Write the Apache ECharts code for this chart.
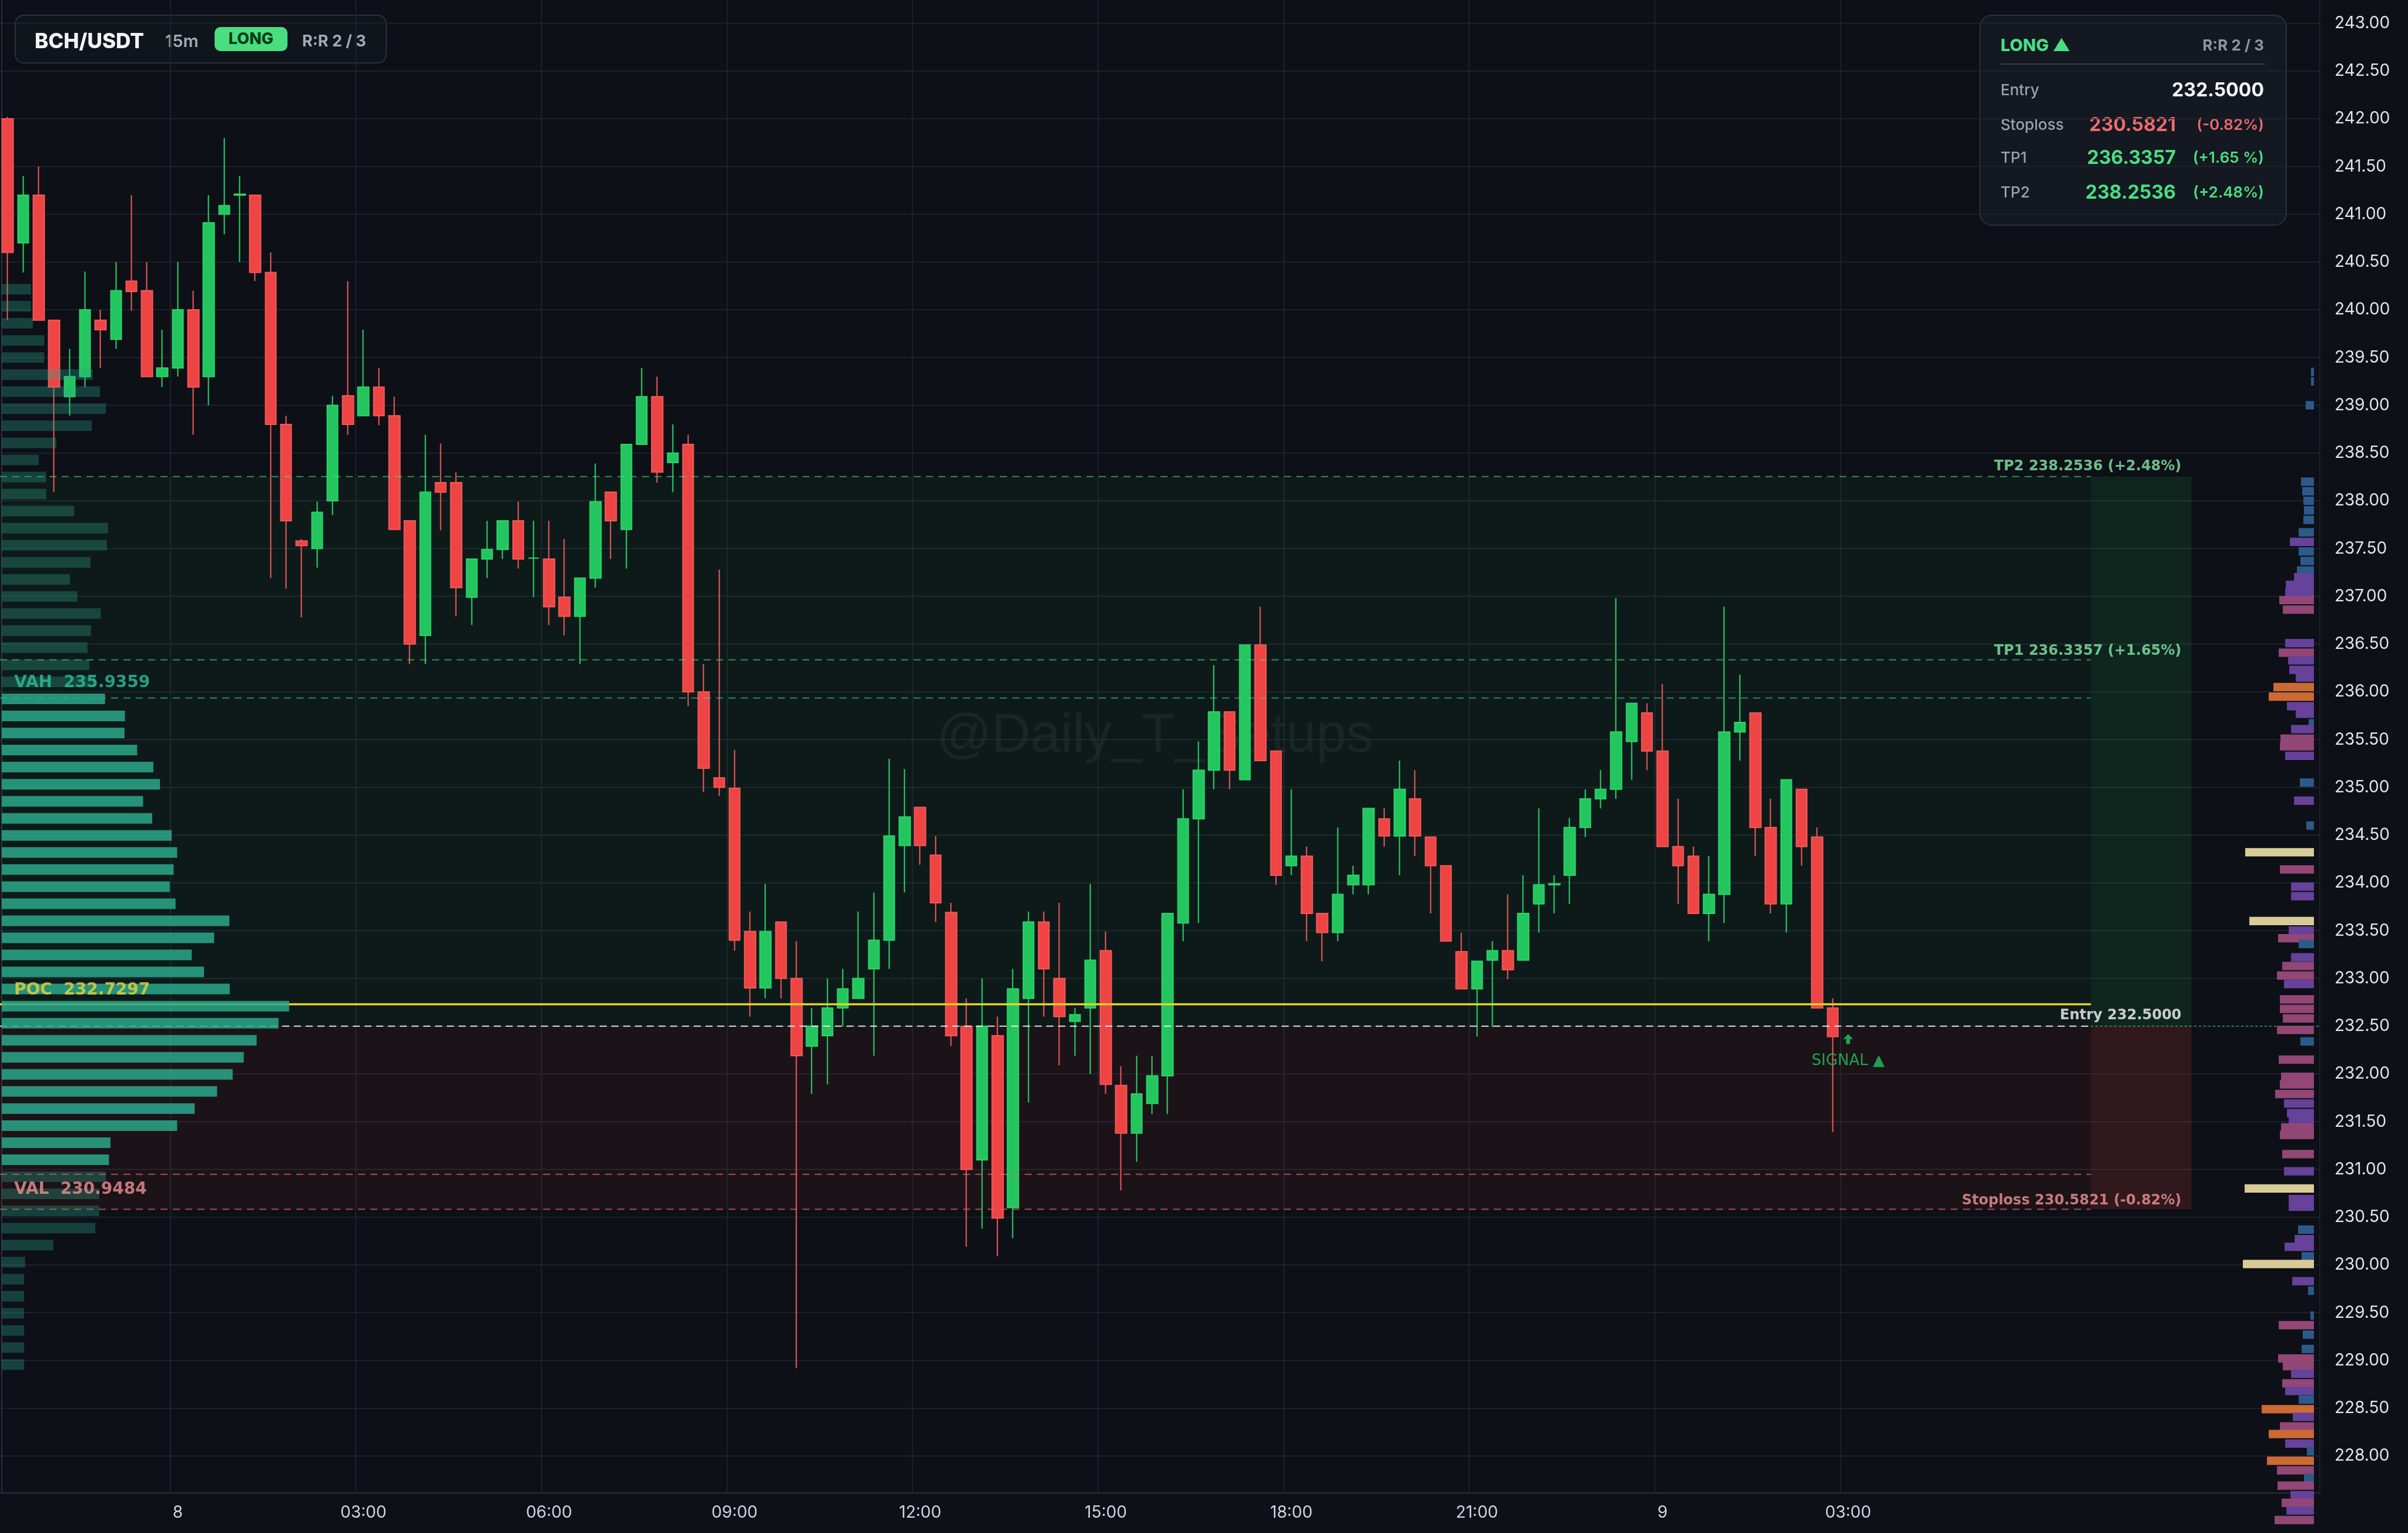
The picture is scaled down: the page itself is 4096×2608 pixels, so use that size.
<!DOCTYPE html>
<html>
<head>
<meta charset="utf-8">
<title>BCH/USDT 15m</title>
<script src="https://cdn.jsdelivr.net/npm/echarts@6/dist/echarts.min.js"></script>
<style>
    html, body { margin: 0; padding: 0; background: #0d1016; }
    #chart { width: 4096px; height: 2608px; }
</style>
</head>
<body>
<div id="chart"></div>
<script>
    // ---- candles (15m), first bar = day 7 21:15 ----
    var candleOpen = [242.00, 240.70, 241.20, 239.89, 239.09, 239.30, 239.89, 239.69, 240.30, 240.20,
        239.30, 239.39, 240.00, 239.30, 241.00, 241.20, 241.20, 240.39, 238.80, 237.58,
        237.50, 238.00, 239.10, 238.89, 239.19, 238.89, 237.79, 236.59, 238.19, 238.19,
        236.99, 237.39, 237.49, 237.79, 237.40, 237.39, 236.99, 236.79, 237.19, 238.09,
        237.70, 238.59, 239.09, 238.40, 238.59, 236.00, 235.10, 234.99, 233.49, 232.90,
        233.59, 233.00, 232.29, 232.40, 232.69, 232.79, 233.10, 233.40, 234.39, 234.79,
        234.29, 233.69, 232.50, 231.10, 232.40, 230.60, 232.79, 233.59, 233.00, 232.55,
        232.69, 233.29, 231.88, 231.38, 231.69, 231.98, 233.58, 234.67, 235.18, 235.79,
        235.08, 236.49, 235.38, 234.18, 234.28, 233.68, 233.48, 233.98, 233.98, 234.67,
        234.49, 234.88, 234.48, 234.18, 233.28, 232.89, 233.19, 233.29, 233.19, 233.78,
        233.98, 234.08, 234.58, 234.88, 234.98, 235.48, 235.78, 235.38, 234.38, 234.28,
        233.68, 233.88, 235.58, 235.78, 234.58, 233.78, 234.98, 234.48, 232.69];
    var candleClose = [240.60, 241.20, 239.89, 239.19, 239.30, 240.00, 239.79, 240.20, 240.19, 239.30,
        239.39, 240.00, 239.19, 240.91, 241.09, 241.21, 240.39, 238.80, 237.79, 237.53,
        237.88, 239.00, 238.80, 239.19, 238.89, 237.70, 236.50, 238.09, 238.09, 237.09,
        237.39, 237.49, 237.79, 237.39, 237.40, 236.89, 236.79, 237.19, 237.99, 237.79,
        238.59, 239.09, 238.30, 238.50, 236.00, 235.20, 235.00, 233.40, 232.90, 233.49,
        233.00, 232.19, 232.50, 232.69, 232.89, 233.00, 233.40, 234.49, 234.69, 234.39,
        233.79, 232.40, 231.00, 232.50, 230.49, 232.89, 233.59, 233.10, 232.60, 232.62,
        233.19, 231.89, 231.38, 231.79, 231.98, 233.68, 234.67, 235.18, 235.79, 235.18,
        236.49, 235.28, 234.08, 234.28, 233.68, 233.48, 233.88, 234.08, 234.78, 234.49,
        234.98, 234.49, 234.18, 233.39, 232.89, 233.18, 233.29, 233.09, 233.68, 233.98,
        233.99, 234.58, 234.88, 234.98, 235.58, 235.88, 235.38, 234.38, 234.18, 233.68,
        233.88, 235.58, 235.68, 234.58, 233.78, 235.08, 234.38, 232.69, 232.39];
    var candleLow = [239.89, 240.39, 239.89, 238.09, 238.89, 239.19, 239.39, 239.59, 239.99, 239.30,
        239.19, 239.30, 238.69, 239.00, 240.79, 240.50, 240.30, 237.19, 237.08, 236.78,
        237.30, 237.85, 238.69, 238.89, 238.79, 237.70, 236.29, 236.29, 237.69, 236.79,
        236.70, 237.19, 237.39, 237.29, 236.99, 236.70, 236.59, 236.29, 237.09, 237.39,
        237.29, 238.59, 238.19, 238.09, 235.85, 234.95, 234.91, 233.29, 232.60, 232.79,
        232.79, 228.92, 231.79, 231.89, 232.50, 232.79, 232.19, 233.10, 233.90, 234.19,
        233.59, 232.29, 230.19, 230.38, 230.09, 230.28, 231.70, 232.60, 232.09, 232.19,
        232.00, 231.79, 230.78, 231.08, 231.58, 231.58, 233.39, 233.58, 234.98, 234.98,
        235.08, 235.28, 233.98, 234.08, 233.39, 233.18, 233.39, 233.88, 233.88, 234.38,
        234.08, 234.28, 233.68, 233.39, 232.89, 232.39, 232.49, 232.99, 233.19, 233.48,
        233.68, 233.78, 234.48, 234.78, 234.88, 235.08, 235.18, 234.38, 233.78, 233.68,
        233.39, 233.58, 235.28, 234.28, 233.68, 233.48, 234.18, 232.69, 231.39];
    var candleHigh = [242.02, 241.40, 241.50, 239.89, 239.59, 240.40, 240.00, 240.50, 241.20, 240.50,
        239.79, 240.50, 240.20, 241.20, 241.80, 241.40, 241.20, 240.60, 238.89, 237.60,
        237.99, 239.10, 240.30, 239.79, 239.39, 239.09, 237.79, 238.69, 238.60, 238.30,
        237.39, 237.79, 237.79, 237.99, 237.79, 237.79, 237.60, 237.19, 238.39, 238.09,
        238.59, 239.39, 239.30, 238.80, 238.69, 236.29, 237.28, 235.39, 233.70, 233.99,
        233.59, 233.39, 232.69, 233.00, 233.10, 233.70, 233.90, 235.30, 235.19, 234.79,
        234.49, 233.79, 232.79, 233.00, 232.60, 233.10, 233.70, 233.70, 233.79, 232.69,
        233.99, 233.49, 232.08, 232.19, 232.19, 233.68, 234.98, 235.48, 236.28, 235.79,
        236.49, 236.89, 235.38, 234.98, 234.38, 233.68, 234.58, 234.18, 234.78, 234.78,
        235.28, 235.18, 234.48, 234.18, 233.48, 233.18, 233.39, 233.88, 234.08, 234.78,
        234.08, 234.68, 234.98, 235.18, 236.98, 235.88, 235.88, 236.08, 234.88, 234.38,
        234.28, 236.89, 236.18, 235.78, 234.88, 235.08, 234.98, 234.58, 232.79];

    // time axis: 150 slots of 15m, labels every 3h
    var tickTimes = ['8 00:00', '8 03:00', '8 06:00', '8 09:00', '8 12:00', '8 15:00', '8 18:00', '8 21:00', '9 00:00', '9 03:00'];
    var tickText = ['8', '03:00', '06:00', '09:00', '12:00', '15:00', '18:00', '21:00', '9', '03:00'];
    var priceTicks = [228.0, 228.5, 229.0, 229.5, 230.0, 230.5, 231.0, 231.5, 232.0, 232.5, 233.0, 233.5,
        234.0, 234.5, 235.0, 235.5, 236.0, 236.5, 237.0, 237.5, 238.0, 238.5, 239.0, 239.5,
        240.0, 240.5, 241.0, 241.5, 242.0, 242.5, 243.0];

    // trade levels
    var levelNames = ['TP2', 'TP1', 'VAH', 'POC', 'Entry', 'VAL', 'Stoploss'];
    var levelPrices = [238.2536, 236.3357, 235.9359, 232.7297, 232.5000, 230.9484, 230.5821];
    var levelPct = ['+2.48%', '+1.65%', '', '', '', '', '-0.82%'];
    var LAST_PRICE = 232.50;
    var SIGNAL_BAR = 119;

    // left volume profile (top bin first)
    var leftVol = [15.0, 15.0, 16.0, 21.8, 21.8, 46.7, 50.5, 53.5, 46.2, 28.0, 19.0, 22.8, 22.8, 37.2,
        54.5, 54.0, 45.5, 35.0, 38.8, 50.8, 45.8, 44.0, 45.0, 48.0, 53.0, 63.2, 63.0, 69.5, 77.8, 81.2,
        72.5, 77.2, 87.2, 90.0, 88.2, 86.2, 89.2, 116.8, 109.0, 97.5, 103.8, 117.0, 147.5, 142.0, 130.8,
        124.2, 118.5, 110.5, 99.0, 90.0, 55.8, 55.0, 53.5, 50.0, 50.0, 48.0, 26.5, 12.0, 11.5, 11.5,
        11.5, 11.5, 11.5, 11.5];
    var LEFT_TOP = 240.215, LEFT_STEP = 0.1787;

    // right-edge volume profile
    var rightPrices = [239.35, 239.25, 239.00, 238.20, 238.10, 238.00, 237.90, 237.80, 237.67, 237.57,
        237.47, 237.37, 237.27, 237.20, 237.12, 237.04, 236.96, 236.86, 236.51, 236.41, 236.33, 236.23,
        236.15, 236.05, 235.95, 235.85, 235.77, 235.67, 235.61, 235.51, 235.43, 235.33, 235.05, 234.86,
        234.60, 234.32, 234.14, 233.96, 233.86, 233.60, 233.50, 233.42, 233.36, 233.22, 233.13, 233.03,
        232.94, 232.78, 232.68, 232.58, 232.46, 232.34, 232.15, 231.97, 231.89, 231.79, 231.69, 231.59,
        231.52, 231.44, 231.36, 231.16, 230.98, 230.80, 230.69, 230.61, 230.37, 230.27, 230.19, 230.09,
        230.01, 229.83, 229.73, 229.47, 229.37, 229.27, 229.12, 229.02, 228.94, 228.86, 228.76, 228.68,
        228.59, 228.49, 228.41, 228.31, 228.23, 228.13, 228.05, 227.95, 227.85, 227.77, 227.69, 227.59,
        227.51, 227.43, 227.33];
    var rightVol = [5, 5, 14, 22, 20, 18, 17, 18, 26, 41,
        26, 23, 29, 34, 48, 49, 59, 53, 49, 60, 44, 42,
        31, 69, 77, 46, 31, 9, 39, 57, 58, 49, 24, 34,
        13, 117, 58, 39, 39, 110, 43, 61, 26, 39, 54, 63,
        51, 58, 58, 53, 63, 23, 60, 56, 58, 66, 51, 46,
        43, 56, 58, 54, 51, 118, 43, 43, 27, 33, 50, 21,
        121, 37, 10, 6, 60, 19, 21, 61, 53, 39, 54, 49,
        26, 89, 36, 58, 77, 49, 12, 80, 63, 17, 62, 40,
        55, 47, 67];

    // overlay extents on the bar-index axis
    var ZONE_START = -0.5, ZONE_END = 134.7, BOX_END = 141.2, SLOT_END = 149.5;
    var LEFT_LABEL_X = 0.41, RIGHT_LABEL_X = 140.55;

    function pad(n) { return (n < 10 ? '0' : '') + n; }
    var timeCats = [];
    for (var k = 0; k < 150; k++) {
        var t = 21 * 60 + 15 + 15 * k;
        var m = t % 1440;
        timeCats.push((7 + Math.floor(t / 1440)) + ' ' + pad(Math.floor(m / 60)) + ':' + pad(m % 60));
    }
    var candleData = candleOpen.map(function (o, i) {
        return [o, candleClose[i], candleLow[i], candleHigh[i]];
    });
    function isTick(idx, val) { return tickTimes.indexOf(val) >= 0; }

    var TP2 = levelPrices[0], ENTRY = levelPrices[4], SL = levelPrices[6];
    var VAH = levelPrices[2], VAL = levelPrices[5], POC = levelPrices[3];

    var levelStyle = [
        {stroke: 'rgba(74,222,128,0.6)', lineWidth: 2, lineDash: [12, 9]},
        {stroke: 'rgba(74,222,128,0.6)', lineWidth: 2, lineDash: [12, 9]},
        {stroke: 'rgba(45,212,170,0.6)', lineWidth: 2, lineDash: [12, 9]},
        {stroke: '#e6d22c', lineWidth: 3.5},
        {stroke: 'rgba(255,255,255,0.85)', lineWidth: 2, lineDash: [12, 8]},
        {stroke: 'rgba(239,98,98,0.7)', lineWidth: 2, lineDash: [12, 9]},
        {stroke: 'rgba(239,98,98,0.7)', lineWidth: 2, lineDash: [12, 9]}
    ];
    var zoneFill = ['rgba(34,197,94,0.055)', 'rgba(239,68,68,0.065)'];
    var boxFill = ['rgba(34,197,94,0.13)', 'rgba(239,68,68,0.16)'];

    function rightColor(v) {
        if (v < 30) return '#2c5a8a';
        if (v < 52) return '#66429a';
        if (v < 68) return '#924776';
        if (v < 100) return '#cc6a35';
        return '#d8cb98';
    }

    var chart = echarts.init(document.getElementById('chart'));
    var ui = '"Inter", "Noto Sans", sans-serif';
    var wide = '"DejaVu Sans", sans-serif';

    var option = {
        backgroundColor: '#0d1016',
        animation: false,
        grid: {left: -3, right: 150, top: 0, bottom: 68},
        xAxis: [
            {
                type: 'category', data: timeCats, boundaryGap: true,
                axisLine: {lineStyle: {color: '#2a2e39', width: 2}},
                axisTick: {show: false},
                axisLabel: {
                    interval: isTick, margin: 20, color: '#d1d4dc', fontSize: 28, fontFamily: ui,
                    formatter: function (v) { return tickText[tickTimes.indexOf(v)]; }
                },
                splitLine: {show: true, interval: isTick, lineStyle: {color: '#22262f', width: 1.5}}
            },
            {type: 'value', min: -0.904, max: 1189.6, show: false},
            {type: 'value', min: -10, max: 3939, inverse: true, show: false},
            {type: 'value', min: -0.5, max: SLOT_END, show: false}
        ],
        yAxis: [{
            type: 'value', position: 'right', min: 227.612, max: 243.243, scale: true,
            axisLine: {show: true, lineStyle: {color: '#2a2e39', width: 2}},
            axisTick: {show: false, customValues: priceTicks},
            axisLabel: {
                customValues: priceTicks, margin: 25, color: '#e1e4ea', fontSize: 28, fontFamily: ui,
                formatter: function (v) { return v.toFixed(2); }
            },
            splitLine: {show: false}
        }],
        graphic: [
            {
                type: 'text', left: 1593, top: 1208, z: 0, silent: true,
                style: {text: '@Daily_T_Setups', fill: 'rgba(255,255,255,0.055)', font: '92px "Liberation Sans"'}
            },
            {
                type: 'group', left: 25, top: 25, z: 100, children: [
                    {type: 'rect', shape: {x: 0, y: 0, width: 631, height: 81, r: 14}, style: {fill: '#10141b', stroke: '#2b303b', lineWidth: 2}},
                    {type: 'text', x: 33, y: 45, style: {text: 'BCH/USDT', fill: '#f1f3f7', font: '800 35px ' + ui, verticalAlign: 'middle'}},
                    {type: 'text', x: 255, y: 45, style: {text: '15m', fill: '#a3a9b6', font: '600 29px ' + ui, verticalAlign: 'middle'}},
                    {type: 'rect', shape: {x: 339, y: 20, width: 124, height: 41, r: 10}, style: {fill: '#4ade80'}},
                    {type: 'text', x: 401, y: 41, style: {text: 'LONG', fill: '#063a18', font: '800 27px ' + ui, align: 'center', verticalAlign: 'middle'}},
                    {type: 'text', x: 488, y: 45, style: {text: 'R:R 2 / 3', fill: '#a3a9b6', font: '700 27px ' + ui, verticalAlign: 'middle'}}
                ]
            },
            {
                type: 'group', left: 3367, top: 25, z: 100, children: [
                    {type: 'rect', shape: {x: 0, y: 0, width: 521, height: 357, r: 20}, style: {fill: '#131821', stroke: '#2a303c', lineWidth: 2}},
                    {type: 'text', x: 35, y: 52, style: {text: 'LONG ▲', fill: '#4ade80', font: '800 29px ' + ui, verticalAlign: 'middle'}},
                    {type: 'text', x: 483, y: 52, style: {text: 'R:R 2 / 3', fill: '#8e95a3', font: '700 26px ' + ui, align: 'right', verticalAlign: 'middle'}},
                    {type: 'line', shape: {x1: 35, y1: 83, x2: 485, y2: 83}, style: {stroke: '#343b48', lineWidth: 2}},
                    {type: 'text', x: 35, y: 128, style: {text: 'Entry', fill: '#9aa1ae', font: '500 26px ' + ui, verticalAlign: 'middle'}},
                    {type: 'text', x: 483, y: 128, style: {text: ENTRY.toFixed(4), fill: '#f4f6fa', font: '700 32px ' + ui, align: 'right', verticalAlign: 'middle'}},
                    {type: 'text', x: 35, y: 187, style: {text: 'Stoploss', fill: '#9aa1ae', font: '500 26px ' + ui, verticalAlign: 'middle'}},
                    {type: 'text', x: 333, y: 187, style: {text: SL.toFixed(4), fill: '#ef6b6b', font: '700 32px ' + ui, align: 'right', verticalAlign: 'middle'}},
                    {type: 'text', x: 483, y: 187, style: {text: '(-0.82%)', fill: '#ef6b6b', font: '600 26px ' + ui, align: 'right', verticalAlign: 'middle'}},
                    {type: 'text', x: 35, y: 243, style: {text: 'TP1', fill: '#9aa1ae', font: '500 26px ' + ui, verticalAlign: 'middle'}},
                    {type: 'text', x: 333, y: 243, style: {text: levelPrices[1].toFixed(4), fill: '#4ade80', font: '700 32px ' + ui, align: 'right', verticalAlign: 'middle'}},
                    {type: 'text', x: 483, y: 243, style: {text: '(+1.65 %)', fill: '#4ade80', font: '600 26px ' + ui, align: 'right', verticalAlign: 'middle'}},
                    {type: 'text', x: 35, y: 302, style: {text: 'TP2', fill: '#9aa1ae', font: '500 26px ' + ui, verticalAlign: 'middle'}},
                    {type: 'text', x: 333, y: 302, style: {text: TP2.toFixed(4), fill: '#4ade80', font: '700 32px ' + ui, align: 'right', verticalAlign: 'middle'}},
                    {type: 'text', x: 483, y: 302, style: {text: '(+2.48%)', fill: '#4ade80', font: '600 26px ' + ui, align: 'right', verticalAlign: 'middle'}}
                ]
            }
        ],
        series: [
            {
                // horizontal price grid
                type: 'custom', xAxisIndex: 3, silent: true, z: 0,
                data: priceTicks.map(function (p) { return [0, p]; }),
                renderItem: function (params, api) {
                    var a = api.coord([ZONE_START, api.value(1)]), b = api.coord([SLOT_END, api.value(1)]);
                    return {type: 'line', shape: {x1: a[0], y1: a[1], x2: b[0], y2: b[1]}, style: {stroke: '#22262f', lineWidth: 1.5}};
                }
            },
            {
                // reward / risk zones
                type: 'custom', xAxisIndex: 3, silent: true, z: 1,
                data: [[0, ENTRY, TP2], [0, SL, ENTRY]],
                renderItem: function (params, api) {
                    var a = api.coord([ZONE_START, api.value(2)]);
                    var b = api.coord([ZONE_END, api.value(1)]);
                    var c = api.coord([BOX_END, api.value(1)]);
                    var i = params.dataIndex;
                    return {
                        type: 'group', children: [
                            {type: 'rect', shape: {x: a[0], y: a[1], width: b[0] - a[0], height: b[1] - a[1]}, style: {fill: zoneFill[i]}},
                            {type: 'rect', shape: {x: b[0], y: a[1], width: c[0] - b[0], height: b[1] - a[1]}, style: {fill: boxFill[i]}}
                        ]
                    };
                }
            },
            {
                type: 'candlestick', name: 'BCH/USDT', z: 5,
                data: candleData, barWidth: 19,
                itemStyle: {color: '#22c55e', color0: '#ef4444', borderColor: '#2bd46a', borderColor0: '#f05a5a', borderWidth: 2},
                markLine: {
                    silent: true, symbol: 'none',
                    lineStyle: {opacity: 0},
                    label: {
                        show: true, position: 'end', distance: 0,
                        formatter: LAST_PRICE.toFixed(2), color: '#ffffff', backgroundColor: '#22c55e',
                        fontSize: 28, fontFamily: ui, padding: [4, 16, 4, 25], borderRadius: 6
                    },
                    data: [{yAxis: LAST_PRICE}]
                }
            },
            {
                // level lines
                type: 'custom', xAxisIndex: 3, silent: true, z: 6,
                data: levelPrices.map(function (p, i) { return [i, p]; }),
                renderItem: function (params, api) {
                    var a = api.coord([ZONE_START, api.value(1)]), b = api.coord([ZONE_END, api.value(1)]);
                    var s = levelStyle[params.dataIndex];
                    return {type: 'line', shape: {x1: a[0], y1: a[1], x2: b[0], y2: b[1]}, style: {stroke: s.stroke, lineWidth: s.lineWidth, lineDash: s.lineDash}};
                }
            },
            {
                // last price line
                type: 'custom', xAxisIndex: 3, silent: true, z: 6,
                data: [[0, LAST_PRICE]],
                renderItem: function (params, api) {
                    var a = api.coord([ZONE_END, api.value(1)]), b = api.coord([SLOT_END, api.value(1)]);
                    return {type: 'line', shape: {x1: a[0], y1: a[1], x2: b[0], y2: b[1]}, style: {stroke: '#22c55e', lineWidth: 1.5, lineDash: [3, 5]}};
                }
            },
            {
                // left volume profile
                type: 'custom', xAxisIndex: 1, silent: true, z: 7,
                data: leftVol.map(function (v, i) { return [v, LEFT_TOP - i * LEFT_STEP]; }),
                renderItem: function (params, api) {
                    var p = api.value(1);
                    var a = api.coord([0, p]), b = api.coord([api.value(0), p]);
                    var h = api.size([0, LEFT_STEP])[1] * 0.62;
                    var inVA = p <= VAH + 0.01 && p >= VAL;
                    return {type: 'rect', shape: {x: a[0], y: a[1] - h / 2, width: b[0] - a[0], height: h},
                        style: {fill: inVA ? 'rgba(42,168,140,0.85)' : 'rgba(42,168,140,0.32)'}};
                }
            },
            {
                // right volume profile
                type: 'custom', xAxisIndex: 2, silent: true, z: 7,
                data: rightVol.map(function (v, i) { return [v, rightPrices[i]]; }),
                renderItem: function (params, api) {
                    var p = api.value(1);
                    var a = api.coord([0, p]), b = api.coord([api.value(0), p]);
                    var h = api.size([0, 0.088])[1];
                    return {type: 'rect', shape: {x: b[0], y: a[1] - h / 2, width: a[0] - b[0], height: h},
                        style: {fill: rightColor(api.value(0))}};
                }
            },
            {
                // level labels
                type: 'scatter', xAxisIndex: 3, symbolSize: 0, silent: true, z: 8,
                label: {show: true, fontFamily: wide, fontWeight: 'bold'},
                data: [
                    {value: [LEFT_LABEL_X, VAH], label: {position: 'right', distance: 0, offset: [0, -26], fontSize: 28, color: '#2dbf9a', formatter: 'VAH  ' + VAH.toFixed(4)}},
                    {value: [LEFT_LABEL_X, POC], label: {position: 'right', distance: 0, offset: [0, -24], fontSize: 28, color: '#e8d43a', formatter: 'POC  ' + POC.toFixed(4)}},
                    {value: [LEFT_LABEL_X, VAL], label: {position: 'right', distance: 0, offset: [0, 26], fontSize: 28, color: '#f09090', formatter: 'VAL  ' + VAL.toFixed(4)}},
                    {value: [RIGHT_LABEL_X, TP2], label: {position: 'left', distance: 0, offset: [0, -17], fontSize: 24, color: '#86e8a8', formatter: levelNames[0] + ' ' + TP2.toFixed(4) + ' (' + levelPct[0] + ')'}},
                    {value: [RIGHT_LABEL_X, levelPrices[1]], label: {position: 'left', distance: 0, offset: [0, -15], fontSize: 24, color: '#86e8a8', formatter: levelNames[1] + ' ' + levelPrices[1].toFixed(4) + ' (' + levelPct[1] + ')'}},
                    {value: [RIGHT_LABEL_X, ENTRY], label: {position: 'left', distance: 0, offset: [0, -18], fontSize: 24, color: '#f6f6f6', formatter: levelNames[4] + ' ' + ENTRY.toFixed(4)}},
                    {value: [RIGHT_LABEL_X, SL], label: {position: 'left', distance: 0, offset: [0, -15], fontSize: 24, color: '#f39494', formatter: levelNames[6] + ' ' + SL.toFixed(4) + ' (' + levelPct[6] + ')'}}
                ]
            },
            {
                // signal marker
                type: 'scatter', xAxisIndex: 3, silent: true, z: 8,
                data: [
                    {value: [SIGNAL_BAR, 232.365], symbol: 'path://M5,0 L10,5 L7,5 L7,10 L3,10 L3,5 L0,5 Z', symbolSize: [17, 17], itemStyle: {color: '#22c55e'}},
                    {value: [SIGNAL_BAR, 232.135], symbolSize: 0, label: {show: true, position: 'inside', formatter: 'SIGNAL ▲', color: '#22c55e', fontSize: 26, fontFamily: wide}}
                ]
            }
        ]
    };
    chart.setOption(option);
</script>
</body>
</html>
